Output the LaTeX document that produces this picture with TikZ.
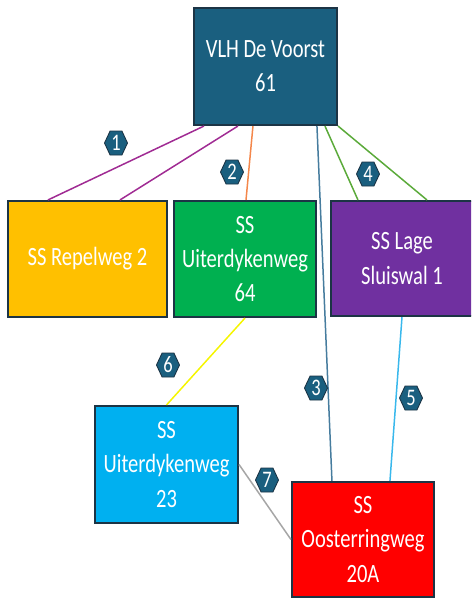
\documentclass[tikz,border=0pt]{standalone}
\usepackage{fontspec}
\setmainfont{Carlito}[FakeStretch=0.78]
\usepackage{xcolor}
\definecolor{voorst}{HTML}{1A5F7F}
\definecolor{edge}{HTML}{1C3445}
\definecolor{repel}{HTML}{FFC000}
\definecolor{uitgreen}{HTML}{00B050}
\definecolor{lage}{HTML}{7030A0}
\definecolor{uitblue}{HTML}{00B0F0}
\definecolor{ooster}{HTML}{FF0000}
\definecolor{linkpurple}{HTML}{A02B93}
\definecolor{linkorange}{HTML}{F4874B}
\definecolor{linksteel}{HTML}{467C9E}
\definecolor{linkgreen}{HTML}{5BAA3A}
\definecolor{linksky}{HTML}{39B8EC}
\definecolor{linkyellow}{HTML}{F5F500}
\definecolor{linkgray}{HTML}{A6A6A6}
\usepackage{tikz}
\usetikzlibrary{calc,shapes.symbols}

\begin{document}
\begin{tikzpicture}[
  x=0.02cm,
  y=-0.02cm,
  box/.style={draw=edge, line width=1.2pt, text=white, align=center, inner sep=0pt,
    font=\fontsize{15}{19.5}\selectfont},
  hex/.style={signal, signal to=west and east, signal pointer angle=130, draw=edge,
    fill=voorst, line width=0.5pt, text=white, minimum width=0.46cm, minimum height=0.48cm,
    inner sep=0pt, font=\fontsize{13.5}{13.5}\selectfont},
  link/.style={line width=0.85pt},
]
\clip (0,0) rectangle (471,599);

% Stations
\node[box, fill=voorst, minimum width=2.86cm, minimum height=2.34cm] (vlh) at (265.5,66.5) {VLH De Voorst\\61};
\node[box, fill=repel, minimum width=3.18cm, minimum height=2.32cm] (rep) at (87.5,259) {SS Repelweg 2};
\node[box, fill=uitgreen, minimum width=2.84cm, minimum height=2.32cm] (uit64) at (245,259) {SS\\Uiterdykenweg\\64};
\node[box, fill=lage, minimum width=2.84cm, minimum height=2.30cm] (lage) at (402,258.5) {SS Lage\\Sluiswal 1};
\node[box, fill=uitblue, minimum width=2.86cm, minimum height=2.34cm] (uit23) at (166.5,464.5) {SS\\Uiterdykenweg\\23};
\node[box, fill=ooster, minimum width=2.84cm, minimum height=2.30cm] (oost) at (363,539.5) {SS\\Oosterringweg\\20A};

% Cable links
\draw[link, linkpurple] ($(vlh.south west)+(11,0)$) -- ($(rep.north west)+(41,0)$);
\draw[link, linkpurple] ($(vlh.south west)+(45,0)$) -- ($(rep.north west)+(113,0)$);
\draw[link, linkorange] ($(vlh.south west)+(60,0)$) -- ($(uit64.north)+(1,0)$);
\draw[link, linksteel] ($(vlh.south west)+(124,0)$) -- ($(oost.north west)+(41,0)$);
\draw[link, linkgreen] ($(vlh.south west)+(132,0)$) -- ($(lage.north west)+(28,0)$);
\draw[link, linkgreen] (vlh.south east) -- ($(lage.north west)+(97,0)$);
\draw[link, linksky] (lage.south) -- ($(oost.north west)+(99,0)$);
\draw[link, linkyellow] (uit64.south) -- (uit23.north);
\draw[link, linkgray] (uit23.east) -- (oost.west);

% Link numbers
\foreach \n/\x/\y in {1/116/143, 2/232/172, 3/316/388, 4/368/174, 5/411/398, 6/168/365, 7/267/480}
  \node[hex] (h\n) at (\x,\y) {\n};

\end{tikzpicture}
\end{document}
